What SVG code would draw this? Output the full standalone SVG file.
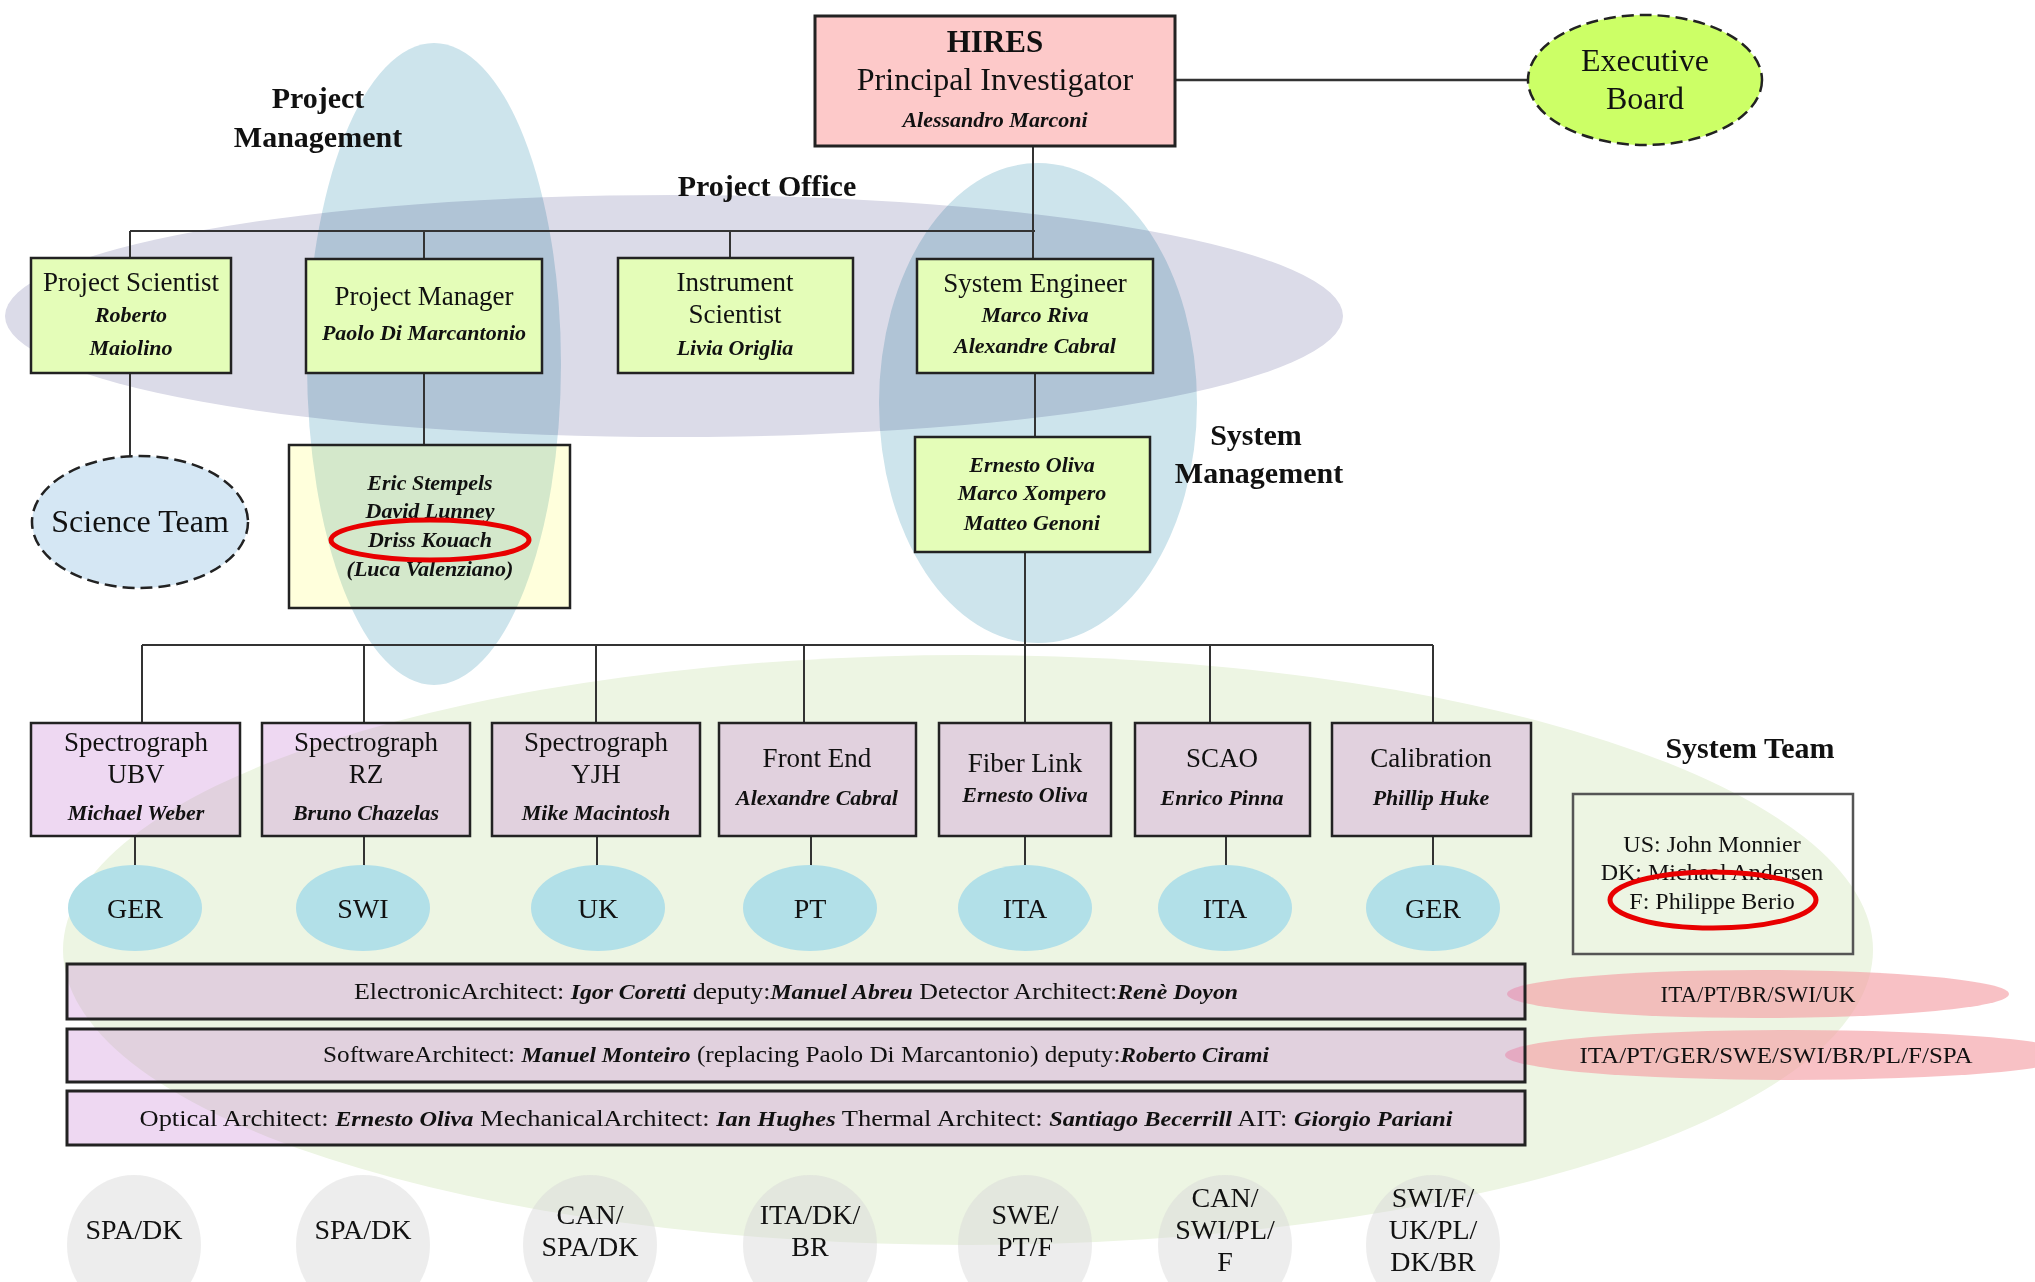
<svg xmlns="http://www.w3.org/2000/svg" width="2035" height="1282" viewBox="0 0 2035 1282">
<style>
text{font-family:'Liberation Serif','Times New Roman',serif;fill:#111;text-anchor:middle}
.r{font-size:27px}
.c{font-size:28px}
.bi{font-size:22px;font-weight:bold;font-style:italic}
.lbl{font-size:30px;font-weight:bold}
.box{fill:#e4fdb8;stroke:#222;stroke-width:2.5}
.wp{fill:#c67dd4;fill-opacity:0.3;stroke:#222;stroke-width:2.5}
.cty{fill:#b2e0e8}
.grp{fill:#d8d8d8;fill-opacity:0.45}
.ln{stroke:#333;stroke-width:2;fill:none}
.red{fill:none;stroke:#e80000;stroke-width:5}
.dash{stroke:#222;stroke-width:2.5;stroke-dasharray:12 6}
.mul{mix-blend-mode:multiply}
.bar{font-size:24px}
.pink{fill:#f4a0a6;fill-opacity:0.65}
</style>
<rect width="2035" height="1282" fill="#ffffff"/>
<g id="regions">
<ellipse cx="674" cy="316" rx="669" ry="121" fill="#dbdbe8"/>
<ellipse class="mul" cx="434" cy="364" rx="127" ry="321" fill="#cde4ec"/>
<ellipse class="mul" cx="1038" cy="403" rx="159" ry="240" fill="#cde4ec"/>
<ellipse cx="968" cy="950" rx="905" ry="295" fill="#edf5e3"/>
<ellipse class="pink" cx="1758" cy="994" rx="251" ry="24"/>
<ellipse class="pink" cx="1790" cy="1055" rx="285" ry="25"/>
<text class="lbl" x="318" y="108">Project</text>
<text class="lbl" x="318" y="147">Management</text>
<text class="lbl" x="767" y="196">Project Office</text>
<text class="lbl" x="1256" y="445">System</text>
<text class="lbl" x="1259" y="483">Management</text>
<text class="lbl" x="1750" y="758">System Team</text>
<text style="font-size:23px" x="1758" y="1002">ITA/PT/BR/SWI/UK</text>
<text style="font-size:23px" x="1776" y="1063" textLength="393" lengthAdjust="spacingAndGlyphs">ITA/PT/GER/SWE/SWI/BR/PL/F/SPA</text>
</g>
<g id="connectors">
<line class="ln" x1="1175" y1="80" x2="1529" y2="80" style="stroke-width:2.5"/>
<line class="ln" x1="1033" y1="146" x2="1033" y2="258"/>
<line class="ln" x1="130" y1="231" x2="1035" y2="231"/>
<line class="ln" x1="130" y1="231" x2="130" y2="258"/>
<line class="ln" x1="424" y1="231" x2="424" y2="258"/>
<line class="ln" x1="730" y1="231" x2="730" y2="258"/>
<line class="ln" x1="130" y1="373" x2="130" y2="456"/>
<line class="ln" x1="424" y1="373" x2="424" y2="445"/>
<line class="ln" x1="1035" y1="373" x2="1035" y2="437"/>
<line class="ln" x1="1025" y1="552" x2="1025" y2="723"/>
<line class="ln" x1="142" y1="645" x2="1433" y2="645"/>
<line class="ln" x1="142" y1="645" x2="142" y2="723"/>
<line class="ln" x1="364" y1="645" x2="364" y2="723"/>
<line class="ln" x1="596" y1="645" x2="596" y2="723"/>
<line class="ln" x1="804" y1="645" x2="804" y2="723"/>
<line class="ln" x1="1210" y1="645" x2="1210" y2="723"/>
<line class="ln" x1="1433" y1="645" x2="1433" y2="723"/>
<line class="ln" x1="135" y1="836" x2="135" y2="866"/>
<line class="ln" x1="364" y1="836" x2="364" y2="866"/>
<line class="ln" x1="597" y1="836" x2="597" y2="866"/>
<line class="ln" x1="811" y1="836" x2="811" y2="866"/>
<line class="ln" x1="1025" y1="836" x2="1025" y2="866"/>
<line class="ln" x1="1226" y1="836" x2="1226" y2="866"/>
<line class="ln" x1="1433" y1="836" x2="1433" y2="866"/>
</g>
<g id="hires">
<rect x="815" y="16" width="360" height="130" fill="#fdc9c9" stroke="#222" stroke-width="3"/>
<text x="995" y="52" style="font-size:31px;font-weight:bold">HIRES</text>
<text x="995" y="90" style="font-size:32px">Principal Investigator</text>
<text class="bi" x="995" y="127">Alessandro Marconi</text>
</g>
<g id="executive-board">
<ellipse class="dash" cx="1645" cy="80" rx="117" ry="65" fill="#ccff66"/>
<text x="1645" y="71" style="font-size:32px">Executive</text>
<text x="1645" y="109" style="font-size:32px">Board</text>
</g>
<g id="project-scientist">
<rect class="box" x="31" y="258" width="200" height="115"/>
<text class="r" x="131" y="291">Project Scientist</text>
<text class="bi" x="131" y="322">Roberto</text>
<text class="bi" x="131" y="355">Maiolino</text>
</g>
<g id="project-manager">
<rect class="box" x="306" y="259" width="236" height="114"/>
<text class="r" x="424" y="305">Project Manager</text>
<text class="bi" x="424" y="340">Paolo Di Marcantonio</text>
</g>
<g id="instrument-scientist">
<rect class="box" x="618" y="258" width="235" height="115"/>
<text class="r" x="735" y="291">Instrument</text>
<text class="r" x="735" y="323">Scientist</text>
<text class="bi" x="735" y="355">Livia Origlia</text>
</g>
<g id="system-engineer">
<rect class="box" x="917" y="259" width="236" height="114"/>
<text class="r" x="1035" y="292">System Engineer</text>
<text class="bi" x="1035" y="322">Marco Riva</text>
<text class="bi" x="1035" y="353">Alexandre Cabral</text>
</g>
<g id="science-team">
<ellipse class="dash" cx="140" cy="522" rx="108" ry="66" fill="#d5e7f4"/>
<text x="140" y="532" style="font-size:32px">Science Team</text>
</g>
<g id="pm-team">
<rect x="289" y="445" width="281" height="163" fill="#ffff16" fill-opacity="0.15" stroke="#222" stroke-width="2.5"/>
<text class="bi" x="430" y="490">Eric Stempels</text>
<text class="bi" x="430" y="518">David Lunney</text>
<text class="bi" x="430" y="547">Driss Kouach</text>
<text class="bi" x="430" y="576">(Luca Valenziano)</text>
<ellipse class="red" cx="430" cy="540" rx="99" ry="20"/>
</g>
<g id="system-management">
<rect class="box" x="915" y="437" width="235" height="115"/>
<text class="bi" x="1032" y="472">Ernesto Oliva</text>
<text class="bi" x="1032" y="500">Marco Xompero</text>
<text class="bi" x="1032" y="530">Matteo Genoni</text>
</g>
<g id="spectrograph-ubv">
<rect class="wp" x="31" y="723" width="209" height="113"/>
<text class="r" x="136" y="751">Spectrograph</text>
<text class="r" x="136" y="783">UBV</text>
<text class="bi" x="136" y="820">Michael Weber</text>
</g>
<g id="spectrograph-rz">
<rect class="wp" x="262" y="723" width="208" height="113"/>
<text class="r" x="366" y="751">Spectrograph</text>
<text class="r" x="366" y="783">RZ</text>
<text class="bi" x="366" y="820">Bruno Chazelas</text>
</g>
<g id="spectrograph-yjh">
<rect class="wp" x="492" y="723" width="208" height="113"/>
<text class="r" x="596" y="751">Spectrograph</text>
<text class="r" x="596" y="783">YJH</text>
<text class="bi" x="596" y="820">Mike Macintosh</text>
</g>
<g id="front-end">
<rect class="wp" x="719" y="723" width="197" height="113"/>
<text class="r" x="817" y="767">Front End</text>
<text class="bi" x="817" y="805">Alexandre Cabral</text>
</g>
<g id="fiber-link">
<rect class="wp" x="939" y="723" width="172" height="113"/>
<text class="r" x="1025" y="772">Fiber Link</text>
<text class="bi" x="1025" y="802">Ernesto Oliva</text>
</g>
<g id="scao">
<rect class="wp" x="1135" y="723" width="175" height="113"/>
<text class="r" x="1222" y="767">SCAO</text>
<text class="bi" x="1222" y="805">Enrico Pinna</text>
</g>
<g id="calibration">
<rect class="wp" x="1332" y="723" width="199" height="113"/>
<text class="r" x="1431" y="767">Calibration</text>
<text class="bi" x="1431" y="805">Phillip Huke</text>
</g>
<g id="system-team">
<rect x="1573" y="794" width="280" height="160" fill="none" stroke="#555" stroke-width="2.5"/>
<text x="1712" y="852" style="font-size:24px">US: John Monnier</text>
<text x="1712" y="880" style="font-size:24px">DK: Michael Andersen</text>
<text x="1712" y="909" style="font-size:24px">F: Philippe Berio</text>
<ellipse class="red" cx="1713" cy="900" rx="103" ry="28"/>
</g>
<g id="countries">
<ellipse class="cty" cx="135" cy="908" rx="67" ry="43"/><text class="c" x="135" y="918">GER</text>
<ellipse class="cty" cx="363" cy="908" rx="67" ry="43"/><text class="c" x="363" y="918">SWI</text>
<ellipse class="cty" cx="598" cy="908" rx="67" ry="43"/><text class="c" x="598" y="918">UK</text>
<ellipse class="cty" cx="810" cy="908" rx="67" ry="43"/><text class="c" x="810" y="918">PT</text>
<ellipse class="cty" cx="1025" cy="908" rx="67" ry="43"/><text class="c" x="1025" y="918">ITA</text>
<ellipse class="cty" cx="1225" cy="908" rx="67" ry="43"/><text class="c" x="1225" y="918">ITA</text>
<ellipse class="cty" cx="1433" cy="908" rx="67" ry="43"/><text class="c" x="1433" y="918">GER</text>
</g>
<g id="architects">
<rect class="wp" x="67" y="964" width="1458" height="55" style="stroke-width:3"/>
<rect class="wp" x="67" y="1029" width="1458" height="53" style="stroke-width:3"/>
<rect class="wp" x="67" y="1091" width="1458" height="54" style="stroke-width:3"/>
<text class="bar" x="796" y="999" textLength="884" lengthAdjust="spacingAndGlyphs">ElectronicArchitect: <tspan class="bi">Igor Coretti</tspan> deputy:<tspan class="bi">Manuel Abreu</tspan> Detector Architect:<tspan class="bi">Renè Doyon</tspan></text>
<text class="bar" x="796" y="1062" textLength="946" lengthAdjust="spacingAndGlyphs">SoftwareArchitect: <tspan class="bi">Manuel Monteiro</tspan> (replacing Paolo Di Marcantonio) deputy:<tspan class="bi">Roberto Cirami</tspan></text>
<text class="bar" x="796" y="1126" textLength="1313" lengthAdjust="spacingAndGlyphs">Optical Architect: <tspan class="bi">Ernesto Oliva</tspan> MechanicalArchitect: <tspan class="bi">Ian Hughes</tspan> Thermal Architect: <tspan class="bi">Santiago Becerrill</tspan> AIT: <tspan class="bi">Giorgio Pariani</tspan></text>
</g>
<g id="groups">
<ellipse class="grp" cx="134" cy="1245" rx="67" ry="70"/><text class="c" x="134" y="1239">SPA/DK</text>
<ellipse class="grp" cx="363" cy="1245" rx="67" ry="70"/><text class="c" x="363" y="1239">SPA/DK</text>
<ellipse class="grp" cx="590" cy="1245" rx="67" ry="70"/><text class="c" x="590" y="1224">CAN/</text><text class="c" x="590" y="1256">SPA/DK</text>
<ellipse class="grp" cx="810" cy="1245" rx="67" ry="70"/><text class="c" x="810" y="1224">ITA/DK/</text><text class="c" x="810" y="1256">BR</text>
<ellipse class="grp" cx="1025" cy="1245" rx="67" ry="70"/><text class="c" x="1025" y="1224">SWE/</text><text class="c" x="1025" y="1256">PT/F</text>
<ellipse class="grp" cx="1225" cy="1245" rx="67" ry="70"/><text class="c" x="1225" y="1207">CAN/</text><text class="c" x="1225" y="1239">SWI/PL/</text><text class="c" x="1225" y="1271">F</text>
<ellipse class="grp" cx="1433" cy="1245" rx="67" ry="70"/><text class="c" x="1433" y="1207">SWI/F/</text><text class="c" x="1433" y="1239">UK/PL/</text><text class="c" x="1433" y="1271">DK/BR</text>
</g>
</svg>
